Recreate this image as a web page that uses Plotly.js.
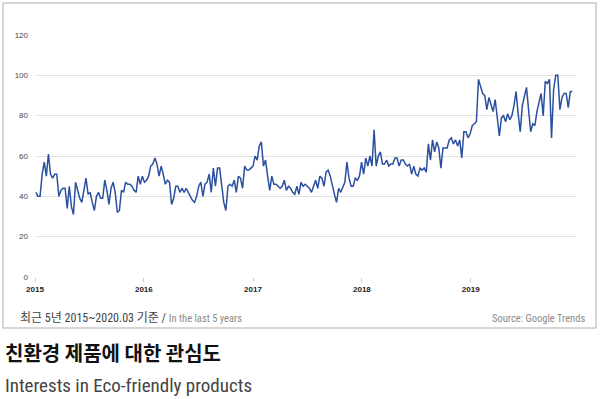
<!DOCTYPE html>
<html>
<head>
<meta charset="utf-8">
<script src="https://cdn.plot.ly/plotly-3.0.1.min.js"></script>
<style>
html,body{margin:0;padding:0;background:#fff;}
#chart{width:600px;height:399px;}
</style>
</head>
<body>
<div id="chart"></div>
<script>
// Weekly Google Trends interest values, weeks starting 2015-01-04
const startDate = '2015-01-04';
const values2015_16 = [42,40,40,51,57,50,61,51,49,51,51,40,43,44,44,34,45,35,31,47,43,39,37,43,49,41,42,37,33,40,42,39,39,48,43,36,44,47,42,32,33,43,42,47,46,46,45,43,42,50,46,50,
  47,48,50,55,56,59,56,50,55,51,46,48,47,36,39,45,45,42,44,42,44,42,40,38,37];
const values2016_18 = [40,45,47,40,46,47,51,42,54,45,54,54,45,37,33,45,46,45,48,42,50,49,44,55,53,53,
  54,55,60,58,65,67,55,58,50,43,50,46,46,45,44,45,48,43,45,44,42,41,45,41,47,45,46,45,44,42,45,48,44,50,49,45,52,53,50,45,41,37,44,42,45,47,57,49,45,45,49,48,50,57,51,59,55,60,55,73,55,60,62,56,56,58];
const values2018_19 = [55,56,56,59,59,55,58,58,56,55,56,51,55,51,50,54,53,54,52,66,58,68,62,67,64,54,64,64,64,68,69,66,68,65,68,59,72,72,69,71,75,76,77,
  98,94,91,90,83,89,86,82,88,79,70,79,80,77,81,78,80,85,92,81,72,85,89,94,83,72,76,75,82,86,91,80,97,96,98,69,93,100,100,83,89,91,91,84,92,92];
const interest = values2015_16.concat(values2016_18, values2018_19);
const yearTicks = ['2015-01-01','2016-01-01','2017-01-01','2018-01-01','2019-01-01'];
const yearLabels = ['2015','2016','2017','2018','2019'];
const yTicks = [0,20,40,60,80,100,120];

const dates = interest.map((_, i) => {
  const d = new Date(startDate + 'T00:00:00Z');
  d.setUTCDate(d.getUTCDate() + 7 * i);
  return d.toISOString().slice(0, 10);
});

// layout geometry (pixels)
const L = 35, R = 576, T = 35, B = 277;
const px = x => (x - L) / (R - L);
const py = y => (B - y) / (B - T);
const narrow = '"Liberation Sans Narrow", "Roboto Condensed", "DejaVu Sans Condensed", "Noto Sans CJK KR", sans-serif';

const trace = {
  x: dates, y: interest, type: 'scatter', mode: 'lines',
  line: {color: '#2c50a0', width: 1.5},
  hoverinfo: 'skip'
};

const layout = {
  width: 600, height: 399,
  margin: {l: L, r: 600 - R, t: T, b: 399 - B},
  paper_bgcolor: '#ffffff', plot_bgcolor: '#ffffff',
  showlegend: false,
  xaxis: {
    type: 'date', range: ['2015-01-01', '2019-12-20'],
    tickvals: yearTicks, ticktext: yearLabels,
    showgrid: false, zeroline: false, showline: false,
    ticks: 'outside', ticklen: 4, tickcolor: '#cccccc', tickwidth: 1,
    tickfont: {family: 'Liberation Sans, Arial, sans-serif', size: 8, color: '#222', weight: 'bold'}
  },
  yaxis: {
    range: [0, 120], tickvals: yTicks, showgrid: true, gridcolor: '#e2e2e2', gridwidth: 1,
    zeroline: false, showline: false, ticks: '', ticklabelstandoff: 6,
    tickfont: {family: 'Liberation Sans, Arial, sans-serif', size: 8, color: '#444'}
  },
  shapes: [{
    type: 'rect', xref: 'paper', yref: 'paper',
    x0: px(3), x1: px(596), y0: py(328), y1: py(3),
    line: {color: '#c9c9c9', width: 1.5}, fillcolor: 'rgba(0,0,0,0)', layer: 'below'
  }],
  annotations: [
    {xref: 'paper', yref: 'paper', x: px(18), y: py(318), xanchor: 'left', yanchor: 'middle', showarrow: false,
     text: '최근 5년 2015~2020.03 기준 / <span style="color:#8a8a8a;font-size:10.5px">In the last 5 years</span>',
     font: {family: narrow, size: 12, color: '#444'}},
    {xref: 'paper', yref: 'paper', x: px(587), y: py(318), xanchor: 'right', yanchor: 'middle', showarrow: false,
     text: 'Source: Google Trends', font: {family: narrow, size: 10.5, color: '#8a8a8a'}},
    {xref: 'paper', yref: 'paper', x: px(3), y: py(352), xanchor: 'left', yanchor: 'middle', showarrow: false,
     text: '<b>친환경 제품에 대한 관심도</b>', font: {family: '"Noto Sans CJK KR", sans-serif', size: 20, color: '#111'}},
    {xref: 'paper', yref: 'paper', x: px(3), y: py(385), xanchor: 'left', yanchor: 'middle', showarrow: false,
     text: 'Interests in Eco-friendly products', font: {family: narrow, size: 19, color: '#444'}}
  ]
};

Plotly.newPlot('chart', [trace], layout, {displayModeBar: false, staticPlot: true});
</script>
</body>
</html>
